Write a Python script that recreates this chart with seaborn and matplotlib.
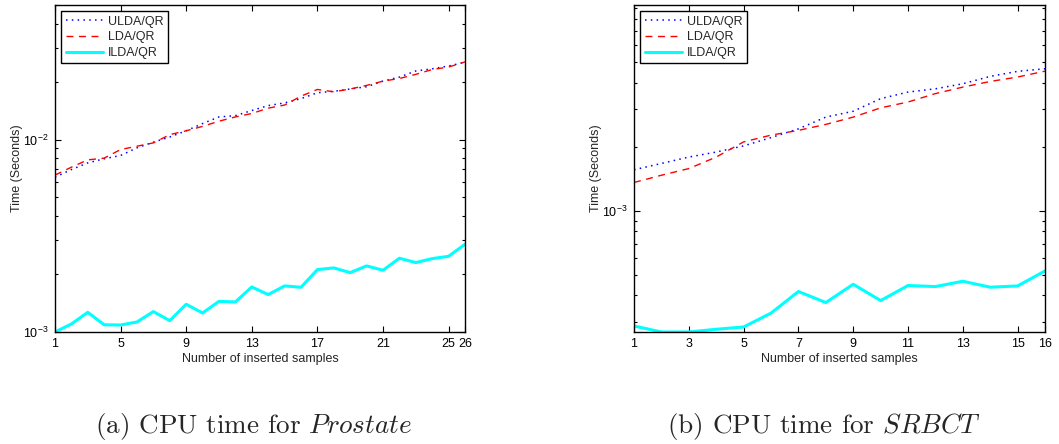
import numpy as np
import pandas as pd
import matplotlib
matplotlib.use("Agg")
import matplotlib.pyplot as plt
from matplotlib.ticker import LogLocator, NullFormatter
import seaborn as sns

# Prostate (left panel)
samples_a = list(range(1, 27))
ulda_a = [6.37e-3, 6.98e-3, 7.56e-3, 7.94e-3, 8.26e-3, 9.05e-3, 9.69e-3, 1.03e-2, 1.11e-2, 1.21e-2,
          1.31e-2, 1.33e-2, 1.415e-2, 1.50e-2, 1.55e-2, 1.63e-2, 1.75e-2, 1.78e-2, 1.83e-2, 1.88e-2,
          2.01e-2, 2.11e-2, 2.27e-2, 2.33e-2, 2.41e-2, 2.52e-2]
lda_a = [6.53e-3, 7.18e-3, 7.84e-3, 8.0e-3, 8.87e-3, 9.23e-3, 9.6e-3, 1.06e-2, 1.11e-2, 1.17e-2,
         1.245e-2, 1.31e-2, 1.365e-2, 1.455e-2, 1.51e-2, 1.68e-2, 1.82e-2, 1.77e-2, 1.83e-2, 1.91e-2,
         2.01e-2, 2.075e-2, 2.18e-2, 2.31e-2, 2.38e-2, 2.53e-2]
ilda_a = [1.0e-3, 1.10e-3, 1.265e-3, 1.09e-3, 1.087e-3, 1.127e-3, 1.276e-3, 1.145e-3, 1.393e-3, 1.255e-3,
          1.443e-3, 1.432e-3, 1.714e-3, 1.564e-3, 1.735e-3, 1.707e-3, 2.109e-3, 2.152e-3, 2.034e-3, 2.204e-3,
          2.093e-3, 2.416e-3, 2.294e-3, 2.405e-3, 2.473e-3, 2.856e-3]
xticks_a = [1, 5, 9, 13, 17, 21, 25, 26]

# SRBCT (right panel)
samples_b = list(range(1, 17))
ulda_b = [1.56e-3, 1.67e-3, 1.79e-3, 1.89e-3, 2.02e-3, 2.21e-3, 2.43e-3, 2.76e-3,
          2.94e-3, 3.37e-3, 3.62e-3, 3.75e-3, 3.96e-3, 4.29e-3, 4.53e-3, 4.66e-3]
lda_b = [1.359e-3, 1.47e-3, 1.58e-3, 1.79e-3, 2.11e-3, 2.27e-3, 2.39e-3, 2.55e-3,
         2.76e-3, 3.05e-3, 3.25e-3, 3.56e-3, 3.82e-3, 4.06e-3, 4.26e-3, 4.54e-3]
ilda_b = [2.87e-4, 2.69e-4, 2.69e-4, 2.77e-4, 2.84e-4, 3.30e-4, 4.17e-4, 3.70e-4,
          4.51e-4, 3.78e-4, 4.45e-4, 4.40e-4, 4.66e-4, 4.37e-4, 4.43e-4, 5.21e-4]
xticks_b = [1, 3, 5, 7, 9, 11, 13, 15, 16]

methods = ["ULDA/QR", "LDA/QR", "ILDA/QR"]
captions = ["(a) CPU time for $Prostate$", "(b) CPU time for $SRBCT$"]

sns.set_style("ticks")
plt.rcParams["font.family"] = ["Liberation Sans", "DejaVu Sans"]
plt.rcParams["mathtext.fontset"] = "custom"
plt.rcParams["mathtext.rm"] = "Liberation Sans"

styles = {
    "ULDA/QR": dict(color="blue", linestyle=(0, (1, 2.8)), linewidth=1.1),
    "LDA/QR": dict(color="red", linestyle=(0, (5, 4)), linewidth=1.0),
    "ILDA/QR": dict(color="cyan", linestyle="-", linewidth=2.2),
}

fig = plt.figure(figsize=(10.59, 4.44), dpi=100)
ax_a = fig.add_axes([0.0519, 0.2523, 0.3872, 0.7365])
ax_b = fig.add_axes([0.5987, 0.2523, 0.3881, 0.7365])

panels = [
    (ax_a, samples_a, [ulda_a, lda_a, ilda_a], xticks_a, (1, 26), (1e-3, 5e-2)),
    (ax_b, samples_b, [ulda_b, lda_b, ilda_b], xticks_b, (1, 16), (2.69e-4, 9.3e-3)),
]

for ax, xs, series, xt, xlim, ylim in panels:
    for name, vals in zip(methods, series):
        df = pd.DataFrame({"x": xs, "t": vals})
        sns.lineplot(data=df, x="x", y="t", ax=ax, label=name, **styles[name])
    ax.set_yscale("log")
    ax.set_xlim(*xlim)
    ax.set_ylim(*ylim)
    ax.set_xticks(xt)
    ax.set_xticklabels([str(v) for v in xt])
    ax.yaxis.set_major_locator(LogLocator(base=10))
    ax.yaxis.set_minor_locator(LogLocator(base=10, subs=np.arange(2, 10)))
    ax.yaxis.set_minor_formatter(NullFormatter())
    ax.set_xlabel("Number of inserted samples", fontsize=9, labelpad=2)
    ax.set_ylabel("Time (Seconds)", fontsize=9, labelpad=0)
    ax.tick_params(which="both", direction="in", top=True, right=True,
                   labelsize=9, colors="black", width=0.8)
    ax.tick_params(which="major", length=4, pad=4.5)
    ax.tick_params(which="minor", length=2.5)
    for sp in ax.spines.values():
        sp.set_visible(True)
        sp.set_color("black")
        sp.set_linewidth(1.0)
    leg = ax.legend(loc="upper left", fontsize=9, frameon=True, fancybox=False,
                    edgecolor="black", framealpha=1, handlelength=3.0,
                    handletextpad=0.4, borderaxespad=0.5, borderpad=0.35,
                    labelspacing=0.3)
    leg.get_frame().set_linewidth(1.0)

plt.rcParams["mathtext.fontset"] = "cm"
for xc, cap in zip([0.2394, 0.778], captions):
    fig.text(xc, 1 - 433 / 444, cap, ha="center", va="baseline",
             fontsize=19.5, family="cmr10", math_fontfamily="cm")

fig.savefig("out.png", dpi=100)
